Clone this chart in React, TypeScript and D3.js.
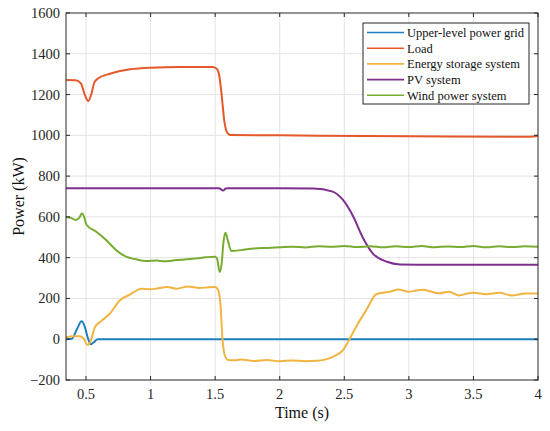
import { useEffect, useRef } from 'react';
import * as d3 from 'd3';

type Pt = [number, number];

// time (s), power (kW)
const gridPower: Pt[] = [
  [0.345, 0], [0.39, 2], [0.43, 50], [0.466, 88], [0.49, 62], [0.515, 5],
  [0.535, -25], [0.56, -15], [0.59, 0], [0.65, 0], [1.5, 0], [2.5, 0], [4.0, 0],
];

const loadPower: Pt[] = [
  [0.345, 1271], [0.42, 1270], [0.46, 1255], [0.49, 1200], [0.517, 1168],
  [0.54, 1200], [0.565, 1260], [0.595, 1280], [0.685, 1302], [0.84, 1324],
  [1.0, 1332], [1.23, 1335], [1.48, 1335], [1.51, 1328], [1.53, 1300],
  [1.55, 1200], [1.57, 1075], [1.59, 1018], [1.615, 1002], [2.0, 1000],
  [3.0, 995], [3.9, 993], [3.97, 994], [4.0, 999],
];

const essPower: Pt[] = [
  [0.345, 10], [0.4, 14], [0.45, 14], [0.48, 5], [0.51, -28], [0.53, -18],
  [0.57, 60], [0.62, 90], [0.685, 126], [0.763, 191], [0.84, 219], [0.93, 248],
  [0.995, 245], [1.06, 250], [1.125, 256], [1.2, 248], [1.29, 258], [1.38, 251],
  [1.45, 255], [1.5, 256], [1.52, 245], [1.54, 180], [1.557, 0], [1.575, -80],
  [1.6, -102], [1.65, -103], [1.7, -100], [1.8, -107], [1.9, -102], [2.0, -108],
  [2.1, -104], [2.2, -108], [2.285, -106], [2.35, -100], [2.414, -85],
  [2.49, -53], [2.54, 0], [2.6, 70], [2.67, 143], [2.75, 222], [2.8, 228],
  [2.85, 233], [2.92, 244], [3.0, 233], [3.05, 238], [3.11, 243], [3.17, 234],
  [3.23, 225], [3.31, 233], [3.39, 215], [3.45, 224], [3.5, 228], [3.6, 220],
  [3.7, 228], [3.8, 214], [3.9, 224], [4.0, 224],
];

const pvPower: Pt[] = [
  [0.345, 740], [1.0, 740], [1.53, 740], [1.55, 733], [1.565, 729], [1.58, 739],
  [1.6, 740], [2.0, 740], [2.26, 739], [2.41, 724], [2.49, 683], [2.57, 601],
  [2.646, 495], [2.72, 421], [2.83, 380], [2.93, 367], [3.2, 365], [4.0, 365],
];

const windPower: Pt[] = [
  [0.345, 600], [0.38, 596], [0.422, 585], [0.45, 598], [0.469, 618], [0.485, 600],
  [0.505, 560], [0.577, 528], [0.655, 487], [0.732, 438], [0.81, 405],
  [0.887, 392], [0.964, 384], [1.05, 386], [1.1, 382],
  [1.2, 388], [1.28, 392], [1.35, 396], [1.43, 402], [1.5, 405], [1.515, 395],
  [1.535, 330], [1.55, 370], [1.565, 480], [1.58, 522], [1.6, 480], [1.625, 433],
  [1.7, 437], [1.8, 445], [1.9, 448], [2.0, 451], [2.1, 454], [2.2, 450],
  [2.3, 456], [2.4, 453], [2.5, 457], [2.6, 452], [2.7, 456], [2.8, 451],
  [2.9, 456], [3.0, 452], [3.1, 457], [3.2, 451], [3.3, 455], [3.4, 452],
  [3.5, 457], [3.6, 451], [3.7, 456], [3.8, 452], [3.9, 456], [4.0, 453],
];

const seriesNames = ['Upper-level power grid', 'Load', 'Energy storage system', 'PV system', 'Wind power system'];
const seriesColors = ['#1f80c0', '#e5582b', '#f2b441', '#7e2f8e', '#77ac30'];
const seriesData = [gridPower, loadPower, essPower, pvPower, windPower];

const xTicks = [0.5, 1, 1.5, 2, 2.5, 3, 3.5, 4];
const yTicks = [-200, 0, 200, 400, 600, 800, 1000, 1200, 1400, 1600];

const width = 550;
const height = 431;
const margin = { top: 13, right: 12, bottom: 51, left: 66 };

const App = () => {
  const svgRef = useRef<SVGSVGElement>(null);

  useEffect(() => {
    if (!svgRef.current) return;
    const svg = d3.select(svgRef.current);
    svg.selectAll('*').remove();

    const x = d3.scaleLinear().domain([0.345, 4]).range([margin.left, width - margin.right]);
    const y = d3.scaleLinear().domain([-200, 1600]).range([height - margin.bottom, margin.top]);
    const font = '"Liberation Serif", "Times New Roman", serif';
    const axisColor = '#262626';

    svg.append('rect').attr('width', width).attr('height', height).attr('fill', 'white');

    // grid
    const grid = svg.append('g').attr('stroke', '#e3e3e3').attr('stroke-width', 1);
    grid.selectAll('line.gx')
      .data(xTicks.slice(0, -1))
      .join('line')
      .attr('x1', d => x(d)).attr('x2', d => x(d))
      .attr('y1', y(-200)).attr('y2', y(1600));
    grid.selectAll('line.gy')
      .data(yTicks.slice(1, -1))
      .join('line')
      .attr('class', 'gy')
      .attr('x1', x(0.345)).attr('x2', x(4))
      .attr('y1', d => y(d)).attr('y2', d => y(d));

    // series, in plotting order (wind ends up on top)
    const line = d3.line<Pt>()
      .x(d => x(d[0]))
      .y(d => y(d[1]))
      .curve(d3.curveMonotoneX);

    seriesData.forEach((data, i) => {
      svg.append('path')
        .datum(data)
        .attr('fill', 'none')
        .attr('stroke', seriesColors[i])
        .attr('stroke-width', 2)
        .attr('stroke-linejoin', 'round')
        .attr('d', line);
    });

    // axes box
    svg.append('rect')
      .attr('x', x(0.345)).attr('y', y(1600))
      .attr('width', x(4) - x(0.345)).attr('height', y(-200) - y(1600))
      .attr('fill', 'none').attr('stroke', axisColor).attr('stroke-width', 1);

    const tickLen = 4;
    const ticks = svg.append('g').attr('stroke', axisColor).attr('stroke-width', 1);
    xTicks.forEach(t => {
      ticks.append('line').attr('x1', x(t)).attr('x2', x(t)).attr('y1', y(-200)).attr('y2', y(-200) - tickLen);
      ticks.append('line').attr('x1', x(t)).attr('x2', x(t)).attr('y1', y(1600)).attr('y2', y(1600) + tickLen);
    });
    yTicks.forEach(t => {
      ticks.append('line').attr('x1', x(0.345)).attr('x2', x(0.345) + tickLen).attr('y1', y(t)).attr('y2', y(t));
      ticks.append('line').attr('x1', x(4)).attr('x2', x(4) - tickLen).attr('y1', y(t)).attr('y2', y(t));
    });

    // tick labels
    svg.selectAll('text.xt')
      .data(xTicks)
      .join('text')
      .attr('class', 'xt')
      .attr('x', d => x(d))
      .attr('y', y(-200) + 19)
      .attr('text-anchor', 'middle')
      .attr('font-family', font)
      .attr('font-size', 14.5)
      .attr('fill', axisColor)
      .text(d => d3.format('')(d));

    svg.selectAll('text.yt')
      .data(yTicks)
      .join('text')
      .attr('class', 'yt')
      .attr('x', x(0.345) - 6)
      .attr('y', d => y(d) + 5)
      .attr('text-anchor', 'end')
      .attr('font-family', font)
      .attr('font-size', 14.5)
      .attr('fill', axisColor)
      .text(d => (d < 0 ? '\u2212' + Math.abs(d) : String(d)));

    // axis titles
    svg.append('text')
      .attr('x', (x(0.345) + x(4)) / 2)
      .attr('y', 418)
      .attr('text-anchor', 'middle')
      .attr('font-family', font)
      .attr('font-size', 16)
      .attr('fill', '#111')
      .text('Time (s)');

    svg.append('text')
      .attr('transform', `translate(24,${(y(-200) + y(1600)) / 2}) rotate(-90)`)
      .attr('text-anchor', 'middle')
      .attr('font-family', font)
      .attr('font-size', 16)
      .attr('fill', '#111')
      .text('Power (kW)');

    // legend
    const lg = svg.append('g').attr('transform', 'translate(363,23)');
    lg.append('rect')
      .attr('width', 166).attr('height', 81)
      .attr('fill', 'white').attr('stroke', axisColor).attr('stroke-width', 1);
    seriesNames.forEach((name, i) => {
      const ly = 9.5 + i * 15.7;
      lg.append('line')
        .attr('x1', 4).attr('x2', 41).attr('y1', ly).attr('y2', ly)
        .attr('stroke', seriesColors[i]).attr('stroke-width', 1.6);
      lg.append('text')
        .attr('x', 44).attr('y', ly + 4.5)
        .attr('font-family', font)
        .attr('font-size', 12.5)
        .attr('fill', '#111')
        .text(name);
    });
  }, []);

  return (
    <svg
      ref={svgRef}
      width={width}
      height={height}
      style={{ position: 'absolute', left: 0, top: 0, display: 'block' }}
    />
  );
};

export default App;
